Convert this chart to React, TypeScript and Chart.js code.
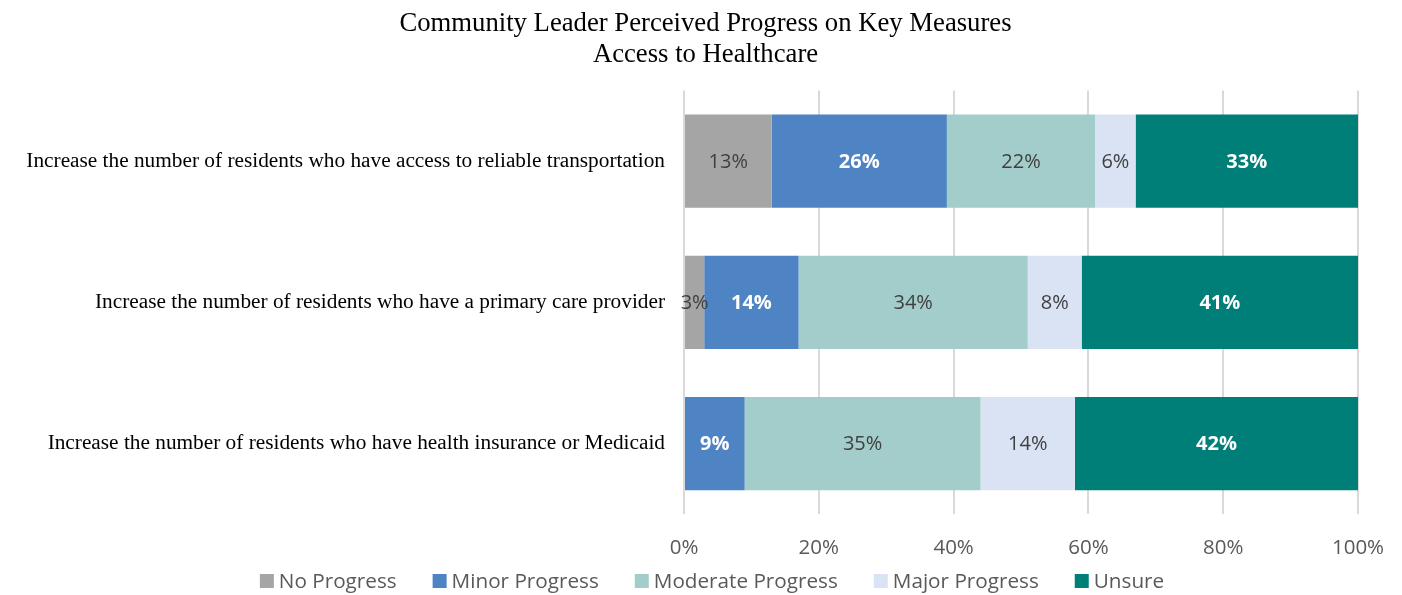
import React, { useEffect, useRef } from "react";
import { Chart, registerables } from "chart.js";

Chart.register(...registerables);

const titleLines = ["Community Leader Perceived Progress on Key Measures", "Access to Healthcare"];
const categories = [
  "Increase the number of residents who have access to reliable transportation",
  "Increase the number of residents who have a primary care provider",
  "Increase the number of residents who have health insurance or Medicaid",
];
const seriesNames = ["No Progress", "Minor Progress", "Moderate Progress", "Major Progress", "Unsure"];
const noProgress = [13, 3, 0];
const minorProgress = [26, 14, 9];
const moderateProgress = [22, 34, 35];
const majorProgress = [6, 8, 14];
const unsure = [33, 41, 42];
const xTickMax = 100;
const xTickStep = 20;

const seriesColors = ["#A5A5A5", "#4F84C4", "#A2CDCA", "#DAE3F3", "#007F78"];
const labelColors = ["#404040", "#FFFFFF", "#404040", "#404040", "#FFFFFF"];
const labelBold = [false, true, false, false, true];

const SANS = "'Open Sans', 'DejaVu Sans', sans-serif";
const SERIF = "'Liberation Serif', 'DejaVu Serif', serif";

const dataLabelPlugin = {
  id: "dataLabels",
  afterDatasetsDraw(chart: any) {
    const ctx = chart.ctx;
    ctx.save();
    ctx.textAlign = "center";
    ctx.textBaseline = "middle";
    chart.data.datasets.forEach((ds: any, di: number) => {
      const meta = chart.getDatasetMeta(di);
      meta.data.forEach((el: any, i: number) => {
        const v = ds.data[i];
        if (!v) return;
        ctx.font = `${labelBold[di] ? "bold " : ""}20px ${SANS}`;
        ctx.fillStyle = labelColors[di];
        ctx.fillText(`${v}%`, (el.x + el.base) / 2, el.y + 1);
      });
    });
    ctx.restore();
  },
};

const legendPlugin = {
  id: "customLegend",
  afterDraw(chart: any) {
    const ctx = chart.ctx;
    ctx.save();
    ctx.font = `20.7px ${SANS}`;
    ctx.textBaseline = "middle";
    ctx.textAlign = "left";
    const box = 14;
    const gap = 5;
    const itemGap = 36;
    const widths = chart.data.datasets.map((d: any) => box + gap + ctx.measureText(d.label).width);
    const total = widths.reduce((a: number, b: number) => a + b, 0) + itemGap * (widths.length - 1);
    let x = 712 - total / 2;
    const y = chart.height - 14;
    chart.data.datasets.forEach((d: any, i: number) => {
      ctx.fillStyle = d.backgroundColor;
      ctx.fillRect(x, y - box / 2, box, box);
      ctx.fillStyle = "#595959";
      ctx.fillText(d.label, x + box + gap, y + 1);
      x += widths[i] + itemGap;
    });
    ctx.restore();
  },
};

export default function App() {
  const ref = useRef<HTMLCanvasElement | null>(null);
  useEffect(() => {
    if (!ref.current) return;
    const seriesData = [noProgress, minorProgress, moderateProgress, majorProgress, unsure];
    const chart = new Chart(ref.current, {
      type: "bar",
      data: {
        labels: categories,
        datasets: seriesNames.map((name, i) => ({
          label: name,
          data: seriesData[i],
          backgroundColor: seriesColors[i],
          borderWidth: 0,
          barPercentage: 1,
          categoryPercentage: 0.66,
        })),
      },
      options: {
        indexAxis: "y",
        responsive: false,
        animation: false,
        layout: { padding: { left: 9, right: 0, top: 0, bottom: 14 } },
        plugins: {
          legend: { display: false },
          tooltip: { enabled: false },
          title: {
            display: true,
            text: titleLines,
            color: "#000000",
            font: { family: SERIF, size: 26.7, weight: "normal", lineHeight: 1.15 },
            padding: { top: 8.5, bottom: 20.5 },
          },
        },
        scales: {
          x: {
            stacked: true,
            min: 0,
            max: xTickMax,
            border: { display: false },
            grid: { color: "#D9D9D9", lineWidth: 2, drawTicks: false },
            ticks: {
              stepSize: xTickStep,
              padding: 21,
              color: "#595959",
              font: { family: SANS, size: 20.5 },
              callback: (v: any) => `${v}%`,
            },
            afterFit: (s: any) => {
              s.paddingRight = 44;
            },
          },
          y: {
            stacked: true,
            border: { display: false },
            grid: { display: false, drawTicks: false },
            ticks: {
              padding: 19,
              color: "#000000",
              font: { family: SERIF, size: 21.3 },
            },
            afterFit: (s: any) => {
              s.width = 675;
            },
          },
        },
      },
      plugins: [dataLabelPlugin, legendPlugin],
    });
    return () => chart.destroy();
  }, []);
  return (
    <div style={{ position: "fixed", left: 0, top: 0, width: 1402, height: 595, background: "#fff" }}>
      <canvas ref={ref} width={1402} height={595} />
    </div>
  );
}
